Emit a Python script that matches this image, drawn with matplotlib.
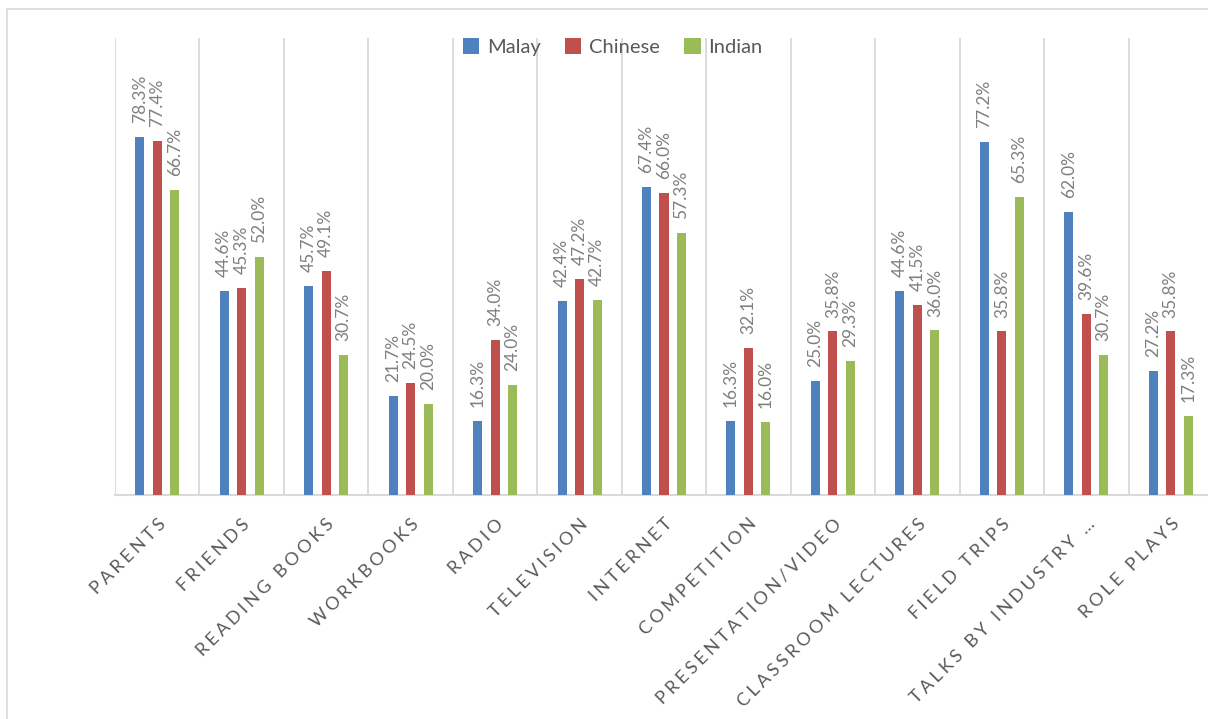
import matplotlib
matplotlib.use("Agg")
import matplotlib.pyplot as plt
import numpy as np
from matplotlib.patches import Rectangle

categories = ["PARENTS", "FRIENDS", "READING BOOKS", "WORKBOOKS", "RADIO", "TELEVISION",
              "INTERNET", "COMPETITION", "PRESENTATION/VIDEO", "CLASSROOM LECTURES",
              "FIELD TRIPS", "TALKS BY INDUSTRY …", "ROLE PLAYS"]
malay = [78.3, 44.6, 45.7, 21.7, 16.3, 42.4, 67.4, 16.3, 25.0, 44.6, 77.2, 62.0, 27.2]
chinese = [77.4, 45.3, 49.1, 24.5, 34.0, 47.2, 66.0, 32.1, 35.8, 41.5, 35.8, 39.6, 35.8]
indian = [66.7, 52.0, 30.7, 20.0, 24.0, 42.7, 57.3, 16.0, 29.3, 36.0, 65.3, 30.7, 17.3]
series_names = ["Malay", "Chinese", "Indian"]
colors = ["#4F81BD", "#C0504D", "#9BBB59"]

plt.rcParams['font.family'] = ['Lato', 'DejaVu Sans']

W, H = 1208, 719
fig = plt.figure(figsize=(W / 100, H / 100), dpi=100)
# outer chart border (partially cropped)
fig.patches.append(Rectangle((7 / W, -0.1), 1.2, 1 - 9 / H + 0.1, transform=fig.transFigure,
                             fill=False, edgecolor="#D9D9D9", linewidth=1.2))

ax = fig.add_axes([115 / W, 1 - 495 / H, 1098 / W, (495 - 38) / H])
n = len(categories)
x = np.arange(n)
bw = 0.107
off = 0.207
for k, (vals, name, c) in enumerate(zip([malay, chinese, indian], series_names, colors)):
    xs = x + (k - 1) * off
    ax.bar(xs, vals, width=bw, color=c, label=name, zorder=3)
    for xi, v in zip(xs, vals):
        ax.annotate(f"{v:.1f}%", (xi, v), xytext=(0, 10), textcoords="offset points",
                    rotation=90, ha="center", va="bottom", fontsize=12.5, color="#7F7F7F")

ax.set_xlim(-0.5, n - 0.5)
ax.set_ylim(0, 100)
ax.set_yticks([])
for s in ["top", "right", "left"]:
    ax.spines[s].set_visible(False)
ax.spines["bottom"].set_color("#D9D9D9")
ax.spines["bottom"].set_linewidth(1.5)
for b in np.arange(-0.5, n + 0.5, 1):
    ax.axvline(b, color="#D9D9D9", linewidth=1.3, zorder=1)

spaced = ["\u2009\u200A".join(list(c)) for c in categories]
ax.set_xticks(x)
ax.set_xticklabels(spaced, rotation=45, ha="right", rotation_mode="anchor",
                   fontsize=13, color="#595959")
ax.tick_params(axis="x", length=0, pad=15)

fig.legend(loc="center", bbox_to_anchor=(613 / W, 1 - 47 / H), ncol=3, frameon=False,
           fontsize=14.5, handlelength=0.8, handleheight=0.8, handletextpad=0.4,
           columnspacing=1.2, labelcolor="#595959")

fig.savefig("out.png", dpi=100)
